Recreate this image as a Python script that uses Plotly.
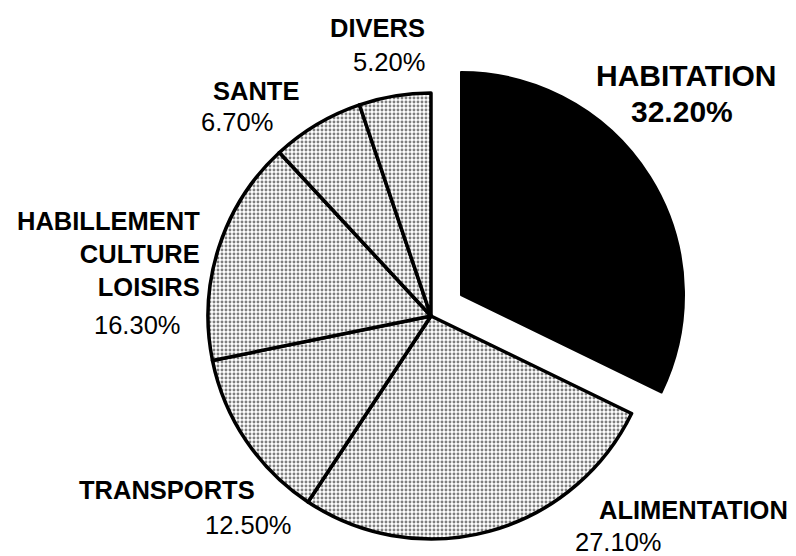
import plotly.graph_objects as go

# Budget shares, clockwise from 12 o'clock
CATEGORIES = ["HABITATION", "ALIMENTATION", "TRANSPORTS",
              "HABILLEMENT<br>CULTURE<br>LOISIRS", "SANTE", "DIVERS"]
SHARES = [32.2, 27.1, 12.5, 16.3, 6.7, 5.2]

# the page body has an 8px default margin, so the figure is shrunk by that
OFF = 8
W, H = 796 - OFF, 556 - OFF

# Pie geometry in page pixels
CX, CY, R = 431, 316, 223
PULL_DX, PULL_DY = 30, -21   # offset of the detached HABITATION slice

# Label anchors in page pixels: (x, y, xanchor) for the name and the percentage
NAME_POS = [(686, 75, "center"), (597, 510, "left"), (77, 490, "left"),
            (202, 254, "right"), (211, 91, "left"), (427, 28, "right")]
PCT_POS = [(682, 111, "center"), (573, 542, "left"), (203, 525, "left"),
           (183, 325, "right"), (199, 122, "left"), (427, 62, "right")]

FONT = "Liberation Sans, Arial, Helvetica, sans-serif"


def px_x(x):
    return (x - OFF) / W


def px_y(y):
    return 1 - (y - OFF) / H


def domain(cx, cy, r):
    return dict(x=[px_x(cx - r), px_x(cx + r)],
                y=[px_y(cy + r), px_y(cy - r)])


fig = go.Figure()

# Shaded slices (HABITATION left as a transparent gap)
n = len(SHARES)
fig.add_trace(go.Pie(
    labels=[c.replace("<br>", " ") for c in CATEGORIES],
    values=SHARES,
    sort=False, direction="clockwise", rotation=0,
    textinfo="none", hoverinfo="label+percent",
    domain=domain(CX, CY, R),
    marker=dict(
        colors=["rgba(0,0,0,0)"] + ["white"] * (n - 1),
        line=dict(color="black", width=[0] + [3.5] * (n - 1)),
        pattern=dict(shape=[""] + ["."] * (n - 1), fgcolor="black",
                     size=4, solidity=0.42, fillmode="overlay"),
    ),
    showlegend=False,
))

# Detached black HABITATION slice
fig.add_trace(go.Pie(
    labels=[CATEGORIES[0], "autres"],
    values=[SHARES[0], sum(SHARES[1:])],
    sort=False, direction="clockwise", rotation=0,
    textinfo="none", hoverinfo="label+percent",
    domain=domain(CX + PULL_DX, CY + PULL_DY, R),
    marker=dict(colors=["black", "rgba(0,0,0,0)"],
                line=dict(color="black", width=[2, 0])),
    showlegend=False,
))

for i, (cat, v) in enumerate(zip(CATEGORIES, SHARES)):
    big = i == 0
    size = 30 if big else 25.5
    nx, ny, na = NAME_POS[i]
    px, py, pa = PCT_POS[i]
    fig.add_annotation(
        x=px_x(nx), y=px_y(ny), xref="paper", yref="paper",
        xanchor=na, yanchor="middle", align=na,
        text=f"<b>{cat}</b>", showarrow=False,
        font=dict(family=FONT, size=size, color="black"),
    )
    pct = f"{v:.2f}%"
    fig.add_annotation(
        x=px_x(px), y=px_y(py), xref="paper", yref="paper",
        xanchor=pa, yanchor="middle",
        text=f"<b>{pct}</b>" if big else pct, showarrow=False,
        font=dict(family=FONT, size=size, color="black"),
    )

fig.update_layout(
    width=W, height=H,
    margin=dict(l=0, r=0, t=0, b=0),
    paper_bgcolor="white", plot_bgcolor="white",
    font=dict(family=FONT),
)

fig.write_html("out.html")
